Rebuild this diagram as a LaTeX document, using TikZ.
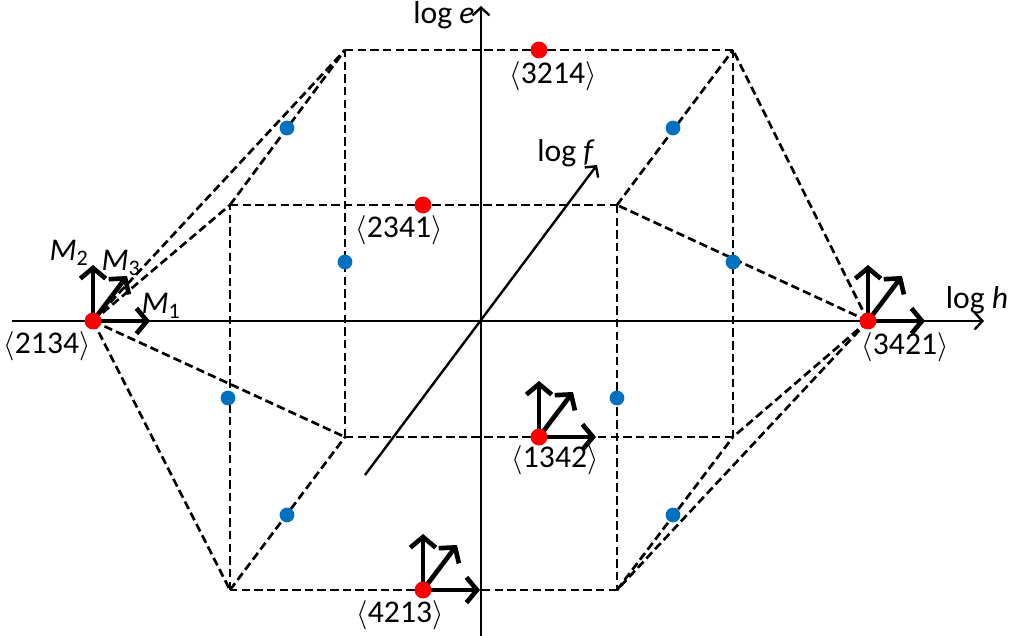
\documentclass[tikz,border=0pt]{standalone}
\usepackage{fontspec}
\setmainfont{Carlito}
\usetikzlibrary{arrows.meta, positioning}
\definecolor{dotblue}{RGB}{0,112,192}
\definecolor{dotred}{RGB}{255,0,0}

\begin{document}
\begin{tikzpicture}[x=0.025cm, y=-0.025cm, every node/.style={font=\fontsize{22.5}{27}\selectfont}]
    \tikzset{edge/.style={line width=1.9pt, dash pattern=on 6pt off 3pt},
             axis/.style={line width=1.7pt, -{Straight Barb[length=5.5pt, width=12pt, line width=1.7pt]}},
             mvec/.style={line width=3.3pt, line cap=round, -{Straight Barb[length=7.5pt, width=18pt]}},
             perm/.style={circle, fill=dotred, inner sep=0pt, minimum size=12pt},
             mid/.style={circle, fill=dotblue, inner sep=0pt, minimum size=10.5pt}}
    \useasboundingbox (0,0) rectangle (1014,636);
    % corners of the two faces and the two side vertices
    \coordinate (btl) at (345,50);  \coordinate (btr) at (733,50);
    \coordinate (bbr) at (733,437); \coordinate (bbl) at (345,437);
    \coordinate (ftl) at (230,205); \coordinate (ftr) at (617,205);
    \coordinate (fbr) at (617,590); \coordinate (fbl) at (230,590);
    \coordinate (lft) at (93,321);  \coordinate (rgt) at (868,321);
    \foreach \a/\b in {btl/btr, btr/bbr, bbr/bbl, bbl/btl, ftl/ftr, ftr/fbr, fbr/fbl, fbl/ftl,
                       ftl/btl, ftr/btr, fbl/bbl, fbr/bbr,
                       lft/btl, lft/ftl, lft/bbl, lft/fbl, rgt/btr, rgt/ftr, rgt/bbr, rgt/fbr}
      \draw[edge] (\a) -- (\b);
    % axes
    \coordinate (hs) at (12,321);  \coordinate (he) at (984,321);
    \coordinate (vs) at (481,636); \coordinate (ve) at (481,6);
    \coordinate (fs) at (365,475); \coordinate (fe) at (597,165);
    \draw[axis] (hs) -- (he);
    \draw[axis] (vs) -- (ve);
    \draw[axis] (fs) -- (fe);
    \node (lh) at (977,300) {log \textit{h}};
    \node (le) at (444,15) {log \textit{e}};
    \node (lf) at (566,153) {log \textit{f}};
    % midpoints
    \foreach \x/\y in {287/128, 673/128, 345/262, 733/262, 228/398, 617/398, 287/515, 673/515}
      \node[mid] (m\x-\y) at (\x,\y) {};
    % vectors
    \foreach \x/\y in {93/321, 868/321, 539/437, 423/590} {
      \draw[mvec] (\x,\y) -- ++(57,0);
      \draw[mvec] (\x,\y) -- ++(0,-56);
      \draw[mvec] (\x,\y) -- ++(34,-45);
    }
    \node (m1) at (161,306) {\textit{M}\textsubscript{1}};
    \node (m2) at (69,253) {\textit{M}\textsubscript{2}};
    \node (m3) at (121,263) {\textit{M}\textsubscript{3}};
    % permutations
    \node[perm] (p2134) at (lft) {};
    \node[perm] (p3421) at (rgt) {};
    \node[perm] (p3214) at (539,50) {};
    \node[perm] (p2341) at (423,205) {};
    \node[perm] (p1342) at (539,437) {};
    \node[perm] (p4213) at (423,590) {};
    \node (t2134) at (47,346)  {$\langle$2134$\rangle$};
    \node (t3421) at (905,347) {$\langle$3421$\rangle$};
    \node (t3214) at (553,76)  {$\langle$3214$\rangle$};
    \node (t2341) at (399,230) {$\langle$2341$\rangle$};
    \node (t1342) at (555,460) {$\langle$1342$\rangle$};
    \node (t4213) at (400,615) {$\langle$4213$\rangle$};
\end{tikzpicture}
\end{document}
